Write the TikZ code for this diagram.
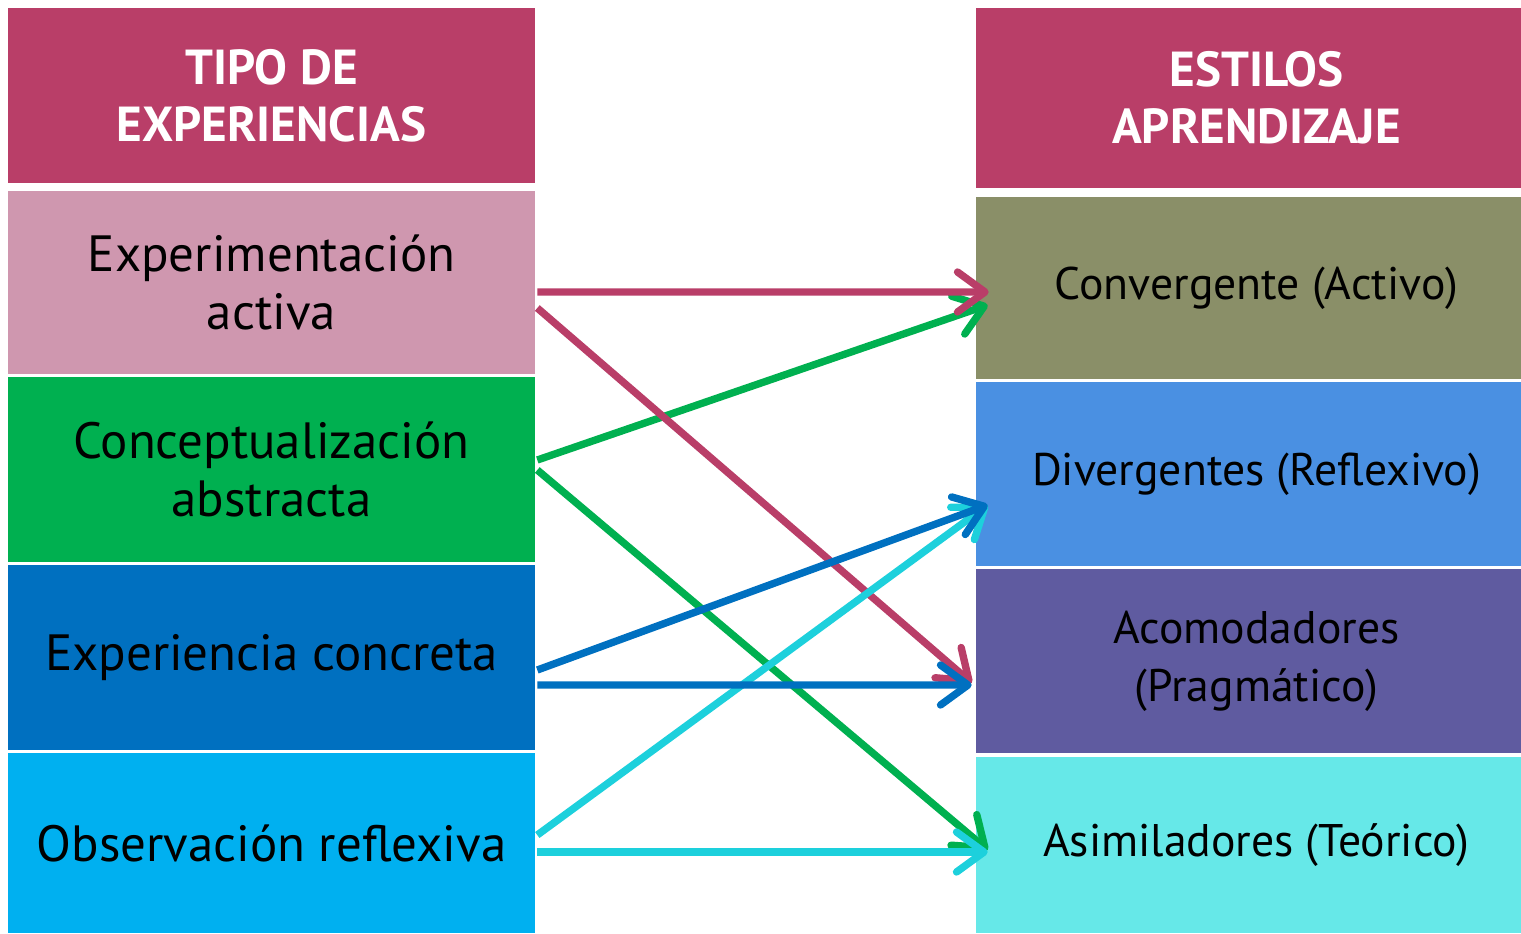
\documentclass[tikz,border=0pt]{standalone}
\usepackage{fontspec}
\setmainfont{PT Sans}
\usetikzlibrary{arrows.meta}

\definecolor{hdrred}{HTML}{B93E68}
\definecolor{pinkA}{HTML}{CF97AF}
\definecolor{greenA}{HTML}{00B050}
\definecolor{blueA}{HTML}{0070C0}
\definecolor{skyA}{HTML}{00B0F0}
\definecolor{oliveA}{HTML}{8A8F68}
\definecolor{divblue}{HTML}{4A90E2}
\definecolor{purpleA}{HTML}{5F5BA0}
\definecolor{cyanbox}{HTML}{66E8E8}
\definecolor{cyanline}{HTML}{1DD0DC}

\begin{document}
\begin{tikzpicture}[x=0.02cm,y=-0.02cm,
    box/.style={inner sep=0pt,align=center,text=black},
    lbox/.style={box,minimum width=10.54cm,font=\fontsize{29}{33}\selectfont},
    rbox/.style={box,minimum width=10.9cm,font=\fontsize{26}{33}\selectfont},
    hdr/.style={fill=hdrred,text=white,font=\bfseries\fontsize{28}{32.5}\selectfont},
    link/.style={line width=4.2pt,-{Straight Barb[length=0.55cm,width=0.8cm,line cap=round,line join=round]}}]
  \useasboundingbox (0,0) rectangle (1521,933);

  % left column
  \node[lbox,hdr,minimum height=3.5cm] (tipo) at (271.5,95.5) {TIPO DE\\EXPERIENCIAS};
  \node[lbox,fill=pinkA,minimum height=3.66cm] (exper) at (271.5,282.5) {Experimentación\\activa};
  \node[lbox,fill=greenA,minimum height=3.7cm] (concep) at (271.5,469.5) {Conceptualización\\abstracta};
  \node[lbox,fill=blueA,minimum height=3.7cm] (concreta) at (271.5,657.5) {\raisebox{-4pt}{Experiencia concreta}};
  \node[lbox,fill=skyA,minimum height=3.6cm] (observ) at (271.5,843) {\raisebox{-3pt}{Observación reflexiva}};

  % right column
  \node[rbox,hdr,minimum height=3.6cm] (estilos) at (1248.5,98) {\hspace{9pt}ESTILOS\\\hspace{9pt}APRENDIZAJE};
  \node[rbox,fill=oliveA,minimum height=3.64cm] (converg) at (1248.5,288) {\hspace{9pt}\raisebox{-2pt}{Convergente (Activo)}};
  \node[rbox,fill=divblue,minimum height=3.68cm] (diverg) at (1248.5,474) {\hspace{9pt}\raisebox{-2pt}{Divergentes (Reflexivo)}};
  \node[rbox,fill=purpleA,minimum height=3.68cm] (acomod) at (1248.5,661) {\hspace{9pt}Acomodadores\\\hspace{9pt}(Pragmático)};
  \node[rbox,fill=cyanbox,minimum height=3.52cm] (asimil) at (1248.5,845) {\hspace{9pt}\raisebox{-3pt}{Asimiladores (Teórico)}};

  % links
  \draw[link,greenA] ([shift={(2,-9.5)}]concep.east) -- ([shift={(12,17)}]converg.west);
  \draw[link,greenA] ([shift={(2,0.5)}]concep.east) -- ([shift={(12,5)}]asimil.west);
  \draw[link,hdrred] ([shift={(2,9.5)}]exper.east) -- ([shift={(13,4)}]converg.west);
  \draw[link,hdrred] ([shift={(2,25.5)}]exper.east) -- ([shift={(-4,22)}]acomod.west);
  \draw[link,cyanline] ([shift={(2,-8)}]observ.east) -- ([shift={(12,31)}]diverg.west);
  \draw[link,cyanline] ([shift={(2,9)}]observ.east) -- ([shift={(12,7)}]asimil.west);
  \draw[link,blueA] ([shift={(2,12.5)}]concreta.east) -- ([shift={(12,31)}]diverg.west);
  \draw[link,blueA] ([shift={(2,27.5)}]concreta.east) -- ([shift={(-4,24)}]acomod.west);
\end{tikzpicture}
\end{document}
